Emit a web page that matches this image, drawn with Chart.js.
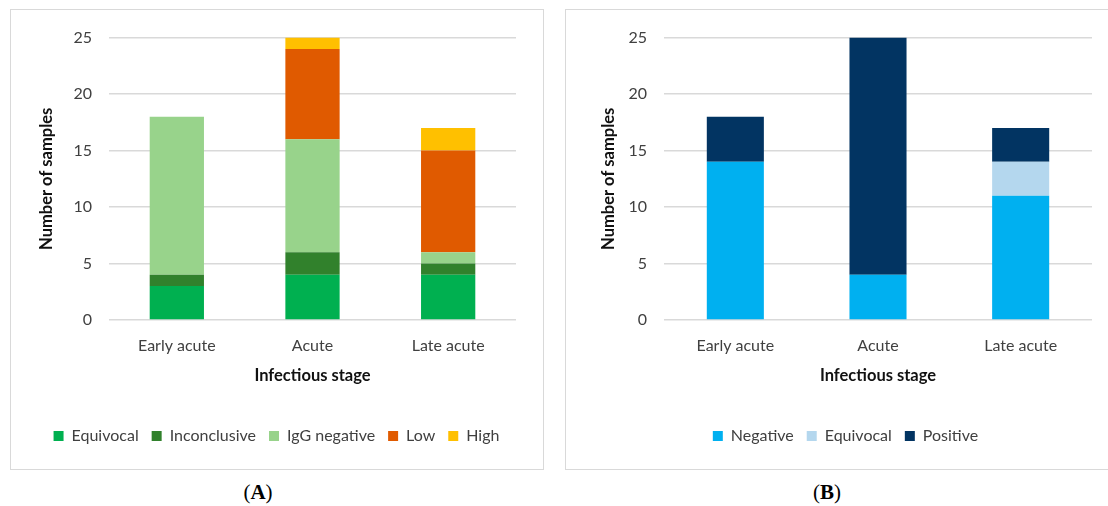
<!DOCTYPE html>
<html>
<head>
<meta charset="utf-8">
<script src="https://cdn.jsdelivr.net/npm/chart.js@4.4.1/dist/chart.umd.min.js"></script>
<style>
  body { margin: 0; background: #fff; width: 1108px; height: 506px; overflow: hidden; position: relative; }
  .box { position: absolute; border: 1.5px solid #d9d9d9; box-sizing: border-box; }
  #boxA { left: 10px; top: 9px; width: 534px; height: 461px; }
  #boxB { left: 565px; top: 9px; width: 560px; height: 461px; }
  canvas { position: absolute; }
  #chartA { left: 11px; top: 11px; }
  #chartB { left: 567px; top: 11px; }
  .cap { position: absolute; top: 480px; width: 100px; text-align: center; line-height: 24px;
         font-family: "Liberation Serif", serif; font-size: 21px; color: #000; }
</style>
</head>
<body>
<div class="box" id="boxA"></div>
<div class="box" id="boxB"></div>
<canvas id="chartA" width="531" height="457"></canvas>
<canvas id="chartB" width="541" height="457"></canvas>
<div class="cap" style="left:208px">(<b>A</b>)</div>
<div class="cap" style="left:777px">(<b>B</b>)</div>
<script>
// categorias y valores
const stages = ["Early acute", "Acute", "Late acute"];
const yTicks = [0, 5, 10, 15, 20, 25];

// panel A
const equivocalA = [3, 4, 4];
const inconclusiveA = [1, 2, 1];
const iggNegativeA = [14, 10, 1];
const lowA = [0, 8, 9];
const highA = [0, 1, 2];

// panel B
const negativeB = [14, 4, 11];
const equivocalB = [0, 0, 3];
const positiveB = [4, 21, 3];

const FONT = "Lato";

function opciones(yWidth, padLeft, padRight) {
  return {
    responsive: false,
    animation: false,
    layout: { padding: { top: 25, bottom: 14, left: padLeft, right: padRight } },
    plugins: {
      legend: {
        position: "bottom",
        labels: { boxWidth: 10, boxHeight: 10, padding: 13, color: "#404040",
                  font: { family: FONT, size: 16 } },
      },
      tooltip: { enabled: false },
    },
    scales: {
      x: {
        stacked: true,
        // alto fijo del eje para que las dos graficas queden iguales
        afterFit: (s) => { s.height = 95; },
        grid: { display: false, drawTicks: false },
        border: { display: false },
        ticks: { padding: 16.4, color: "#404040", font: { family: FONT, size: 16 } },
        title: { display: true, text: "Infectious stage", color: "#111",
                 padding: { top: 10, bottom: 29 }, font: { family: FONT, size: 16.5, weight: "bold" } },
      },
      y: {
        stacked: true,
        min: 0,
        max: 25,
        afterFit: (s) => { s.width = yWidth; },
        afterBuildTicks: (s) => { s.ticks = yTicks.map((v) => ({ value: v })); },
        grid: { color: "#d9d9d9", lineWidth: 1.5, drawTicks: false },
        border: { display: false },
        ticks: { padding: 17, color: "#404040", font: { family: FONT, size: 16 } },
        title: { display: true, text: "Number of samples", color: "#111",
                 padding: { top: 0, bottom: 0 }, font: { family: FONT, size: 16.5, weight: "bold" } },
      },
    },
  };
}

function serie(label, data, color) {
  return { label: label, data: data, backgroundColor: color, borderWidth: 0,
           categoryPercentage: 1, barPercentage: 0.4 };
}

function chartA() {
  const ctx = document.getElementById("chartA").getContext("2d");
  new Chart(ctx, {
    type: "bar",
    data: {
      labels: stages,
      datasets: [
        serie("Equivocal", equivocalA, "#00b050"),
        serie("Inconclusive", inconclusiveA, "#31812c"),
        serie("IgG negative", iggNegativeA, "#98d38b"),
        serie("Low", lowA, "#e05a00"),
        serie("High", highA, "#ffc000"),
      ],
    },
    options: opciones(72, 26, 26),
  });
}

function chartB() {
  const ctx = document.getElementById("chartB").getContext("2d");
  new Chart(ctx, {
    type: "bar",
    data: {
      labels: stages,
      datasets: [
        serie("Negative", negativeB, "#00b0f0"),
        serie("Equivocal", equivocalB, "#b4d7ee"),
        serie("Positive", positiveB, "#023462"),
      ],
    },
    options: opciones(65, 32, 16),
  });
}

chartA();
chartB();
</script>
</body>
</html>
